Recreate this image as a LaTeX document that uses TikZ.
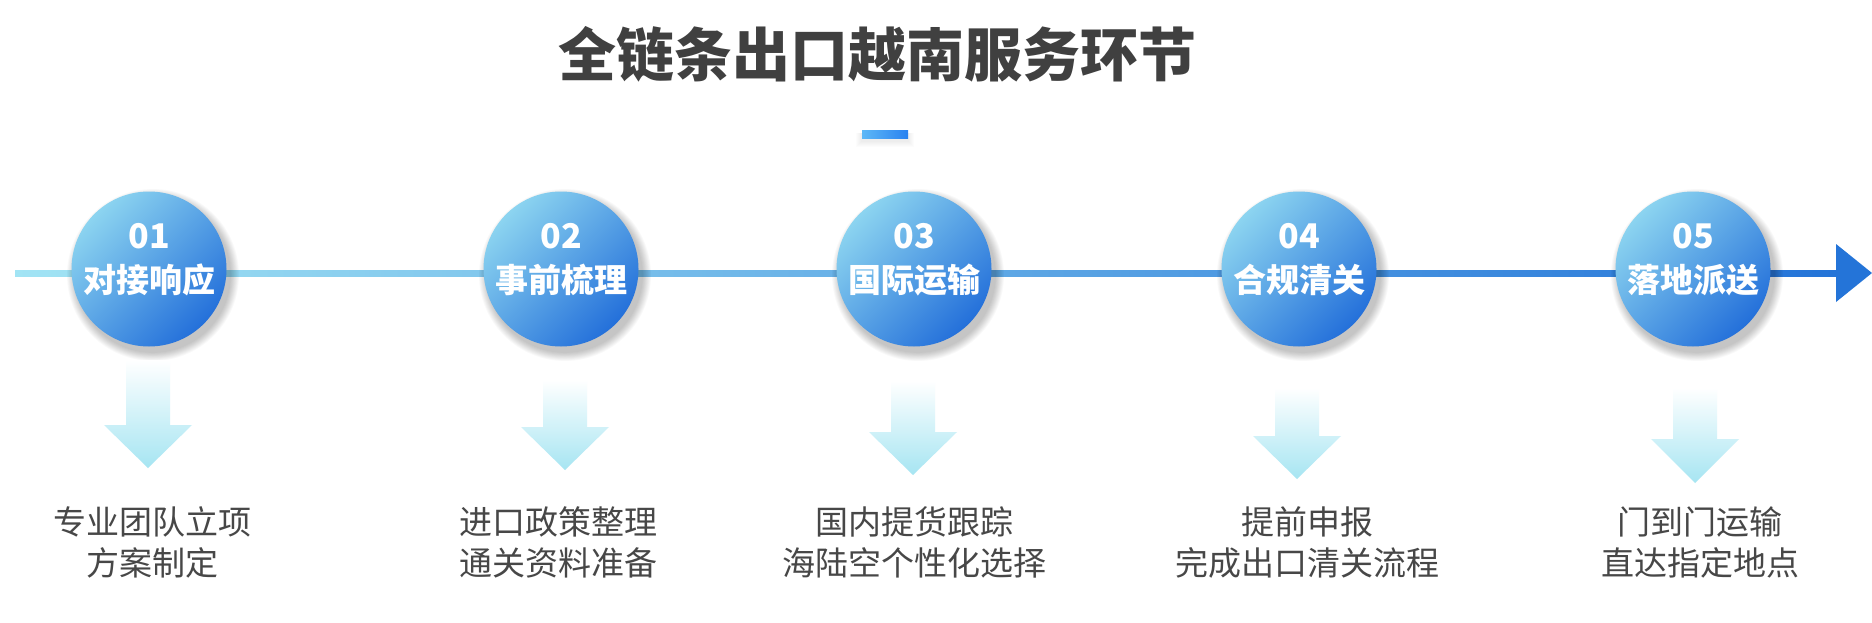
\documentclass[tikz,border=0pt]{standalone}
\usepackage{fontspec}
\newfontfamily\cjk{Noto Sans CJK SC}
\usetikzlibrary{calc}
\definecolor{titlegray}{HTML}{404040}
\definecolor{bodygray}{HTML}{474747}
\definecolor{circlight}{HTML}{8CD4F0}
\definecolor{circdark}{HTML}{2470DA}
\definecolor{linelight}{HTML}{A2E4F4}
\definecolor{linedark}{HTML}{2474D8}
\definecolor{arrlight}{HTML}{A6E5F2}
\definecolor{barlight}{HTML}{5DB8F7}
\definecolor{bardark}{HTML}{2A82F0}
\tikzset{
  stepcircle/.style={circle, minimum size=155pt, inner sep=0pt,
    left color=circlight, right color=circdark, shading angle=45},
  stepnum/.style={anchor=base, text=white, font=\cjk\bfseries\fontsize{34}{34}\selectfont, inner sep=0pt},
  steplabel/.style={anchor=base, text=white, font=\cjk\bfseries\fontsize{33}{33}\selectfont, inner sep=0pt},
  stepdesc/.style={anchor=base, text=bodygray, align=center, inner sep=0pt,
    font=\cjk\fontsize{33}{40.5}\selectfont},
  downarrow/.style={top color=white, bottom color=arrlight},
}
\newcommand{\softshadow}[3]{%
  \foreach \k in {1,...,10}{\fill[black, opacity=0.022] (#1+4,#2+6) circle ({#3+\k*0.9});}}
\newcommand{\downarr}[4]{% cx, top, base, tip
  \shade[downarrow] (#1-22,#2) -- (#1+22,#2) -- (#1+22,#3) -- (#1+44,#3) -- (#1,#4) -- (#1-44,#3) -- (#1-22,#3) -- cycle;}
\begin{document}
\begin{tikzpicture}[x=1pt,y=-1pt]
\useasboundingbox (0,0) rectangle (1872,623);
\fill[white] (0,0) rectangle (1872,623);
% title
\node[anchor=base, text=titlegray, font=\cjk\bfseries\fontsize{58}{58}\selectfont, inner sep=0pt] (title) at (877,77) {全链条出口越南服务环节};
% accent bar
\foreach \k in {1,...,6}{\fill[black, opacity=0.012] (862-\k,133) rectangle (908+\k,141+\k);}
\shade[left color=barlight, right color=bardark] (862,131) rectangle (908,139);
% timeline
\coordinate (lstart) at (15,273);
\coordinate (lend) at (1836,273);
\shade[left color=linelight, right color=linedark] ($(lstart)+(0,-3)$) rectangle ($(lend)+(0,3)$);
\fill[linedark] ($(lend)+(0,-29)$) -- (1872,273) -- ($(lend)+(0,29)$) -- cycle;
% circles
\foreach \cx/\nm/\num/\lab in {149/c1/01/对接响应, 561/c2/02/事前梳理, 914/c3/03/国际运输, 1299/c4/04/合规清关, 1693/c5/05/落地派送}{
  \softshadow{\cx}{269}{77}
  \node[stepcircle] (\nm) at (\cx,269) {};
  \node[stepnum] (\nm n) at (\cx,248.5) {\num};
  \node[steplabel] (\nm l) at (\cx,292.5) {\lab};
}
% down arrows
\downarr{148}{360}{425}{468}
\downarr{565}{380}{427}{470}
\downarr{913}{381}{432}{475}
\downarr{1297}{388}{436}{479}
\downarr{1695}{388}{439}{483}
% descriptions (base = last line)
\node[stepdesc] (d1) at (152,575) {专业团队立项\\方案制定};
\node[stepdesc] (d2) at (558,575) {进口政策整理\\通关资料准备};
\node[stepdesc] (d3) at (914,575) {国内提货跟踪\\海陆空个性化选择};
\node[stepdesc] (d4) at (1307,575) {提前申报\\完成出口清关流程};
\node[stepdesc] (d5) at (1700,575) {门到门运输\\直达指定地点};
\end{tikzpicture}
\end{document}
